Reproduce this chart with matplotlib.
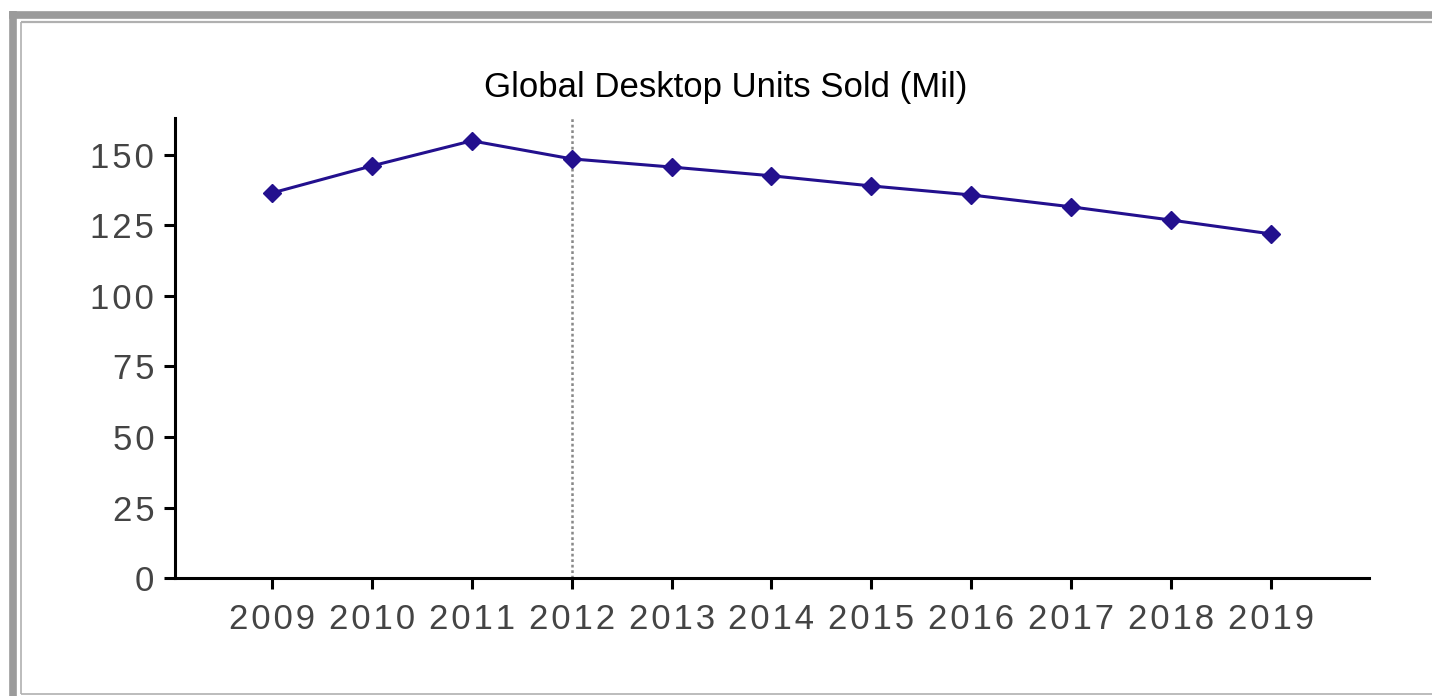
import matplotlib.pyplot as plt
from matplotlib.lines import Line2D

plt.rcParams['font.family'] = ['Liberation Sans', 'DejaVu Sans']

# data
years = [2009, 2010, 2011, 2012, 2013, 2014, 2015, 2016, 2017, 2018, 2019]
units = [136.5, 146.1, 155.0, 148.6, 145.7, 142.6, 139.0, 135.8, 131.6, 126.9, 122.0]
y_ticks = [0, 25, 50, 75, 100, 125, 150]
marker_year = 2012


def spaced(s):
    # the reference draws tick labels with a bit of letter spacing
    return '\u200a'.join(str(s))


fig = plt.figure(figsize=(14.32, 6.96), dpi=100)
ax = fig.add_axes([0.1222, 0.1695, 0.956 - 0.1222, 0.8305 - 0.1695])

ax.plot(years, units, color='#23108e', lw=2.2, marker='D', ms=9.5)
ax.axvline(marker_year, color='#888888', lw=1.8, ls=(0, (1.1, 1.1)), zorder=0)

ax.set_xlim(2008.03, 2019.98)
ax.set_ylim(0, 163.1)
ax.set_xticks(years)
ax.set_xticklabels([spaced(y) for y in years])
ax.set_yticks(y_ticks)
ax.set_yticklabels([spaced(v) for v in y_ticks])
ax.tick_params(axis='both', labelsize=25, labelcolor='#444444', width=2.2, length=8, color='black')
ax.tick_params(axis='x', pad=10)
ax.tick_params(axis='y', pad=7)

for side in ['top', 'right']:
    ax.spines[side].set_visible(False)
for side in ['left', 'bottom']:
    ax.spines[side].set_linewidth(2.2)

fig.text(0.507, 1 - 88 / 696, 'Global Desktop Units Sold (Mil)', ha='center', va='center',
         fontsize=25, color='black')

# gray frame around the chart
W, H = 1432, 696
frame = dict(solid_capstyle='butt')
fig.add_artist(Line2D([12.5 / W, 12.5 / W], [0, 1 - 11 / H], color='#9b9b9b', lw=5.5, **frame))
fig.add_artist(Line2D([9 / W, 1], [1 - 14.5 / H, 1 - 14.5 / H], color='#9b9b9b', lw=5.5, **frame))
fig.add_artist(Line2D([20.5 / W, 20.5 / W], [1 - 694 / H, 1 - 22 / H], color='#b0b0b0', lw=1.2, **frame))
fig.add_artist(Line2D([20.5 / W, 1], [1 - 22 / H, 1 - 22 / H], color='#b0b0b0', lw=1.6, **frame))
fig.add_artist(Line2D([20.5 / W, 1], [1 - 694 / H, 1 - 694 / H], color='#b0b0b0', lw=1.2, **frame))

fig.savefig('out.png', dpi=100)
